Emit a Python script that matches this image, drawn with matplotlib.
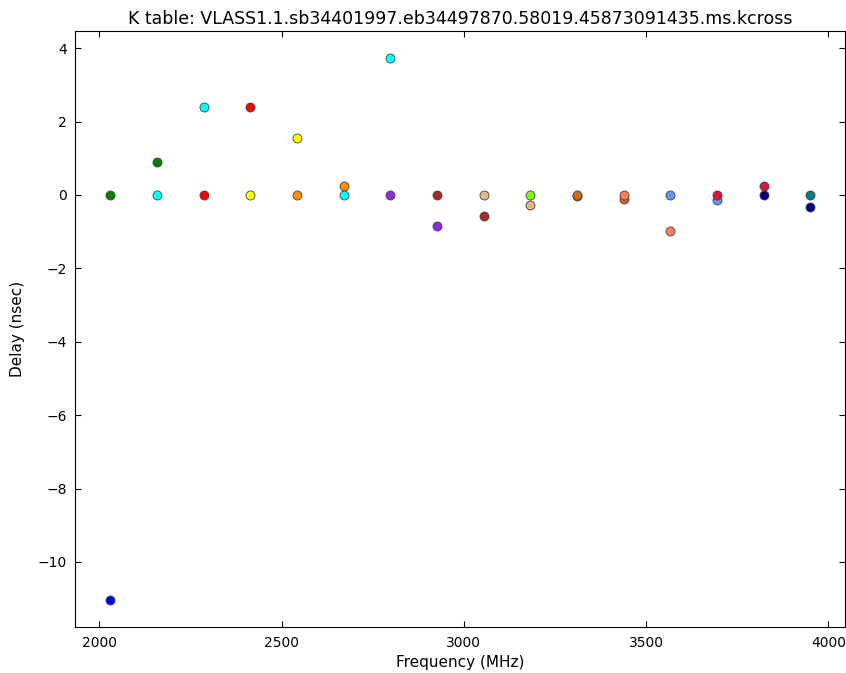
import numpy as np
import matplotlib
matplotlib.use('Agg')
import matplotlib.pyplot as plt

# spw centre frequencies (MHz)
freqs = [2030, 2158, 2286, 2414, 2542, 2670, 2798, 2926,
         3054, 3182, 3310, 3438, 3566, 3694, 3822, 3950]

# antenna with a non zero delay in each spw
delays_other = [-11.04, 0.90, 2.40, 2.40, 1.55, 0.25, 3.73, -0.84,
                -0.57, -0.27, -0.04, -0.12, -0.97, -0.15, 0.25, -0.33]
colors_other = ['#0000ff', '#008000', '#00ffff', '#ff0000', '#ffff00', '#ff8c00',
                '#00ffff', '#8a2be2', '#a52a2a', '#deb887', '#8b5a2b', '#d2691e',
                '#ff7f50', '#6495ed', '#dc143c', '#000080']

# reference antenna, delay 0
delays_ref = [0.0] * 16
colors_ref = ['#008000', '#00ffff', '#ff0000', '#ffff00', '#ff8c00', '#00ffff',
              '#8a2be2', '#a52a2a', '#deb887', '#7cfc00', '#d2691e', '#ff7f50',
              '#6495ed', '#dc143c', '#000080', '#008080']

plt.rcParams['xtick.direction'] = 'in'
plt.rcParams['ytick.direction'] = 'in'
plt.rcParams['xtick.top'] = True
plt.rcParams['ytick.right'] = True
plt.rcParams['xtick.major.size'] = 4
plt.rcParams['ytick.major.size'] = 4

fig = plt.figure(figsize=(8.46, 6.73), dpi=100)
ax = fig.add_axes([0.089, 0.068, 0.910, 0.886])

for f, d, c in zip(freqs, delays_other, colors_other):
    ax.plot(f, d, 'o', color=c, markersize=6.5, markeredgecolor='#444444', markeredgewidth=0.6)
for f, d, c in zip(freqs, delays_ref, colors_ref):
    ax.plot(f, d, 'o', color=c, markersize=6.5, markeredgecolor='#444444', markeredgewidth=0.6)

ax.set_xticks([2000, 2500, 3000, 3500, 4000])
ax.set_yticks([-10, -8, -6, -4, -2, 0, 2, 4])
ax.tick_params(labelsize=10, pad=6)
ax.set_xlabel('Frequency (MHz)', fontsize=11)
ax.set_ylabel('Delay (nsec)', fontsize=11, labelpad=9)
ax.set_title('K table: VLASS1.1.sb34401997.eb34497870.58019.45873091435.ms.kcross', fontsize=12.5, pad=5)

fig.savefig('out.png', dpi=100)
